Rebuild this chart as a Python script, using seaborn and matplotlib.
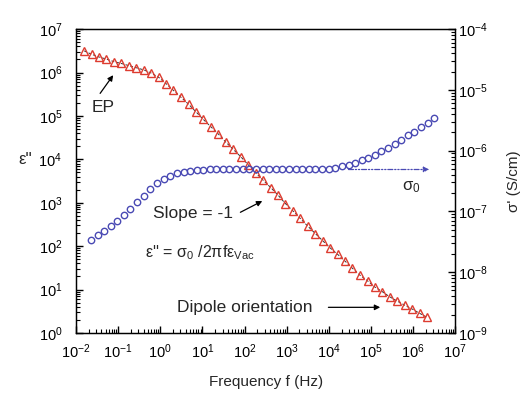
import numpy as np
import matplotlib
matplotlib.use("Agg")
import matplotlib.pyplot as plt
from matplotlib.ticker import LogLocator, NullFormatter
import seaborn as sns

# Data (log10 values)
# Dielectric loss epsilon'' (left axis), triangles
eps_logf = [-1.81, -1.63, -1.46, -1.28, -1.10, -0.93, -0.75, -0.57, -0.39, -0.22,
            -0.04, 0.14, 0.31, 0.49, 0.67, 0.85, 1.02, 1.20, 1.38, 1.55,
            1.73, 1.91, 2.09, 2.26, 2.44, 2.62, 2.79, 2.97, 3.15, 3.32,
            3.50, 3.68, 3.86, 4.03, 4.21, 4.39, 4.56, 4.74, 4.92, 5.09,
            5.27, 5.45, 5.63, 5.80, 5.98, 6.16, 6.33]
eps_log = [6.50, 6.42, 6.36, 6.31, 6.25, 6.21, 6.16, 6.11, 6.06, 5.99,
           5.89, 5.74, 5.59, 5.43, 5.27, 5.09, 4.92, 4.75, 4.58, 4.40,
           4.23, 4.06, 3.87, 3.69, 3.52, 3.35, 3.18, 2.98, 2.81, 2.64,
           2.46, 2.29, 2.12, 1.96, 1.81, 1.65, 1.49, 1.33, 1.20, 1.06,
           0.95, 0.83, 0.73, 0.64, 0.55, 0.45, 0.36]

# Conductivity sigma' (right axis), circles
sig_logf = [-1.65, -1.49, -1.34, -1.18, -1.02, -0.87, -0.71, -0.55, -0.39, -0.24,
            -0.08, 0.08, 0.23, 0.39, 0.55, 0.70, 0.86, 1.02, 1.17, 1.33,
            1.49, 1.64, 1.80, 1.96, 2.11, 2.27, 2.43, 2.58, 2.74, 2.90,
            3.05, 3.21, 3.37, 3.52, 3.68, 3.84, 4.00, 4.15, 4.31, 4.47,
            4.62, 4.78, 4.94, 5.09, 5.25, 5.41, 5.56, 5.72, 5.88, 6.03,
            6.19, 6.35, 6.50]
sig_log = [-7.47, -7.39, -7.32, -7.24, -7.15, -7.06, -6.96, -6.85, -6.74, -6.63,
           -6.53, -6.46, -6.41, -6.37, -6.35, -6.33, -6.32, -6.32, -6.31, -6.31,
           -6.31, -6.31, -6.31, -6.31, -6.31, -6.31, -6.31, -6.31, -6.31, -6.31,
           -6.31, -6.31, -6.31, -6.31, -6.31, -6.31, -6.30, -6.28, -6.26, -6.23,
           -6.20, -6.16, -6.12, -6.07, -6.01, -5.95, -5.89, -5.82, -5.75, -5.69,
           -5.61, -5.54, -5.46]

sigma0_log = -6.31
x_ticks = [1e-2, 1e-1, 1e0, 1e1, 1e2, 1e3, 1e4, 1e5, 1e6, 1e7]

RED = "#dd3c30"
BLUE = "#4a4ab4"

sns.set_style("ticks")
plt.rcParams["font.family"] = ["Liberation Sans", "DejaVu Sans"]
plt.rcParams["mathtext.default"] = "regular"
plt.rcParams["axes.unicode_minus"] = False

eps_f = 10 ** np.array(eps_logf)
eps = 10 ** np.array(eps_log)
sig_f = 10 ** np.array(sig_logf)
sig = 10 ** np.array(sig_log)

fig = plt.figure(figsize=(5.25, 3.94), dpi=100)
ax = fig.add_axes([0.145, 0.155, 0.722, 0.771])
ax2 = ax.twinx()

ax.set_xscale("log")
ax.set_yscale("log")
ax2.set_yscale("log")

# fit line through epsilon'' then the markers
sns.lineplot(x=eps_f, y=eps, ax=ax, color="#333333", lw=0.7, linestyle=(0, (3, 2)),
             estimator=None)
sns.lineplot(x=eps_f, y=eps, ax=ax, marker="^", linestyle="", markersize=5.4,
             markerfacecolor="none", markeredgecolor=RED, markeredgewidth=1.0,
             estimator=None)
sns.lineplot(x=sig_f, y=sig, ax=ax2, marker="o", linestyle="", markersize=4.6,
             markerfacecolor="none", markeredgecolor=BLUE, markeredgewidth=1.0,
             estimator=None)

ax.set_xlim(1e-2, 1e7)
ax.set_ylim(1e0, 1e7)
ax2.set_ylim(1e-9, 1e-4)
ax.set_xticks(x_ticks)
ax.set_yticks([10.0 ** k for k in range(0, 8)])
ax2.set_yticks([10.0 ** k for k in range(-9, -3)])

minor = dict(base=10.0, subs=np.arange(2, 10), numticks=100)
ax.xaxis.set_minor_locator(LogLocator(**minor))
ax.yaxis.set_minor_locator(LogLocator(**minor))
ax2.yaxis.set_minor_locator(LogLocator(**minor))
for axis in (ax.xaxis, ax.yaxis, ax2.yaxis):
    axis.set_minor_formatter(NullFormatter())

for a in (ax, ax2):
    a.tick_params(which="major", length=5, width=1.0, labelsize=10.5, direction="in",
                  color="black", labelcolor="black")
    a.tick_params(which="minor", length=3, width=0.8, direction="in", color="black")
    for s in a.spines.values():
        s.set_linewidth(0.9)
        s.set_color("black")
ax.tick_params(axis="both", which="both", top=False, right=False)
ax.tick_params(axis="x", which="major", pad=7)
ax.tick_params(axis="y", which="major", pad=10)
ax2.tick_params(axis="y", which="both", left=False, right=True)
ax2.tick_params(axis="y", which="major", pad=2)

ax.set_xlabel("Frequency f (Hz)", fontsize=11, labelpad=10)
ax.set_ylabel("ε''", fontsize=12, rotation=0, va="center")
ax.yaxis.set_label_coords(-0.135, 0.57)
ax2.set_ylabel("σ' (S/cm)", fontsize=11, labelpad=14)

# sigma_0 dash-dot arrow
ax2.annotate("", xy=(10 ** 6.45, 10 ** sigma0_log), xytext=(10 ** 4.4, 10 ** sigma0_log),
             arrowprops=dict(arrowstyle="-|>", color=BLUE, lw=0.9,
                             linestyle=(0, (4, 1.5, 1, 1.5, 1, 1.5)), mutation_scale=8))
ax.text(0.885, 0.48, r"$\sigma_0$", transform=ax.transAxes, fontsize=12, ha="center", va="center")

arrow = dict(arrowstyle="-|>", color="black", lw=0.9, mutation_scale=8, shrinkA=0, shrinkB=0)

# EP
ax.text(10 ** -1.36, 10 ** 5.20, "EP", fontsize=12.5, ha="center", va="center")
ax.annotate("", xy=(10 ** -1.12, 10 ** 5.94), xytext=(10 ** -1.43, 10 ** 5.52), arrowprops=arrow)

# Slope
ax.text(10 ** 0.78, 10 ** 2.76, "Slope = -1", fontsize=12.5, ha="center", va="center")
ax.annotate("", xy=(10 ** 2.42, 10 ** 3.04), xytext=(10 ** 1.90, 10 ** 2.78), arrowprops=arrow)
ax.text(10 ** 0.95, 10 ** 1.86, r"ε'' = $\sigma_0$ /2πfε$_{Vac}$", fontsize=11.5,
        ha="center", va="center")

# Dipole orientation
ax.text(10 ** 2.01, 10 ** 0.59, "Dipole orientation", fontsize=12.5, ha="center", va="center")
ax.annotate("", xy=(10 ** 5.22, 10 ** 0.59), xytext=(10 ** 3.99, 10 ** 0.59), arrowprops=arrow)

fig.savefig("out.png", dpi=100)
